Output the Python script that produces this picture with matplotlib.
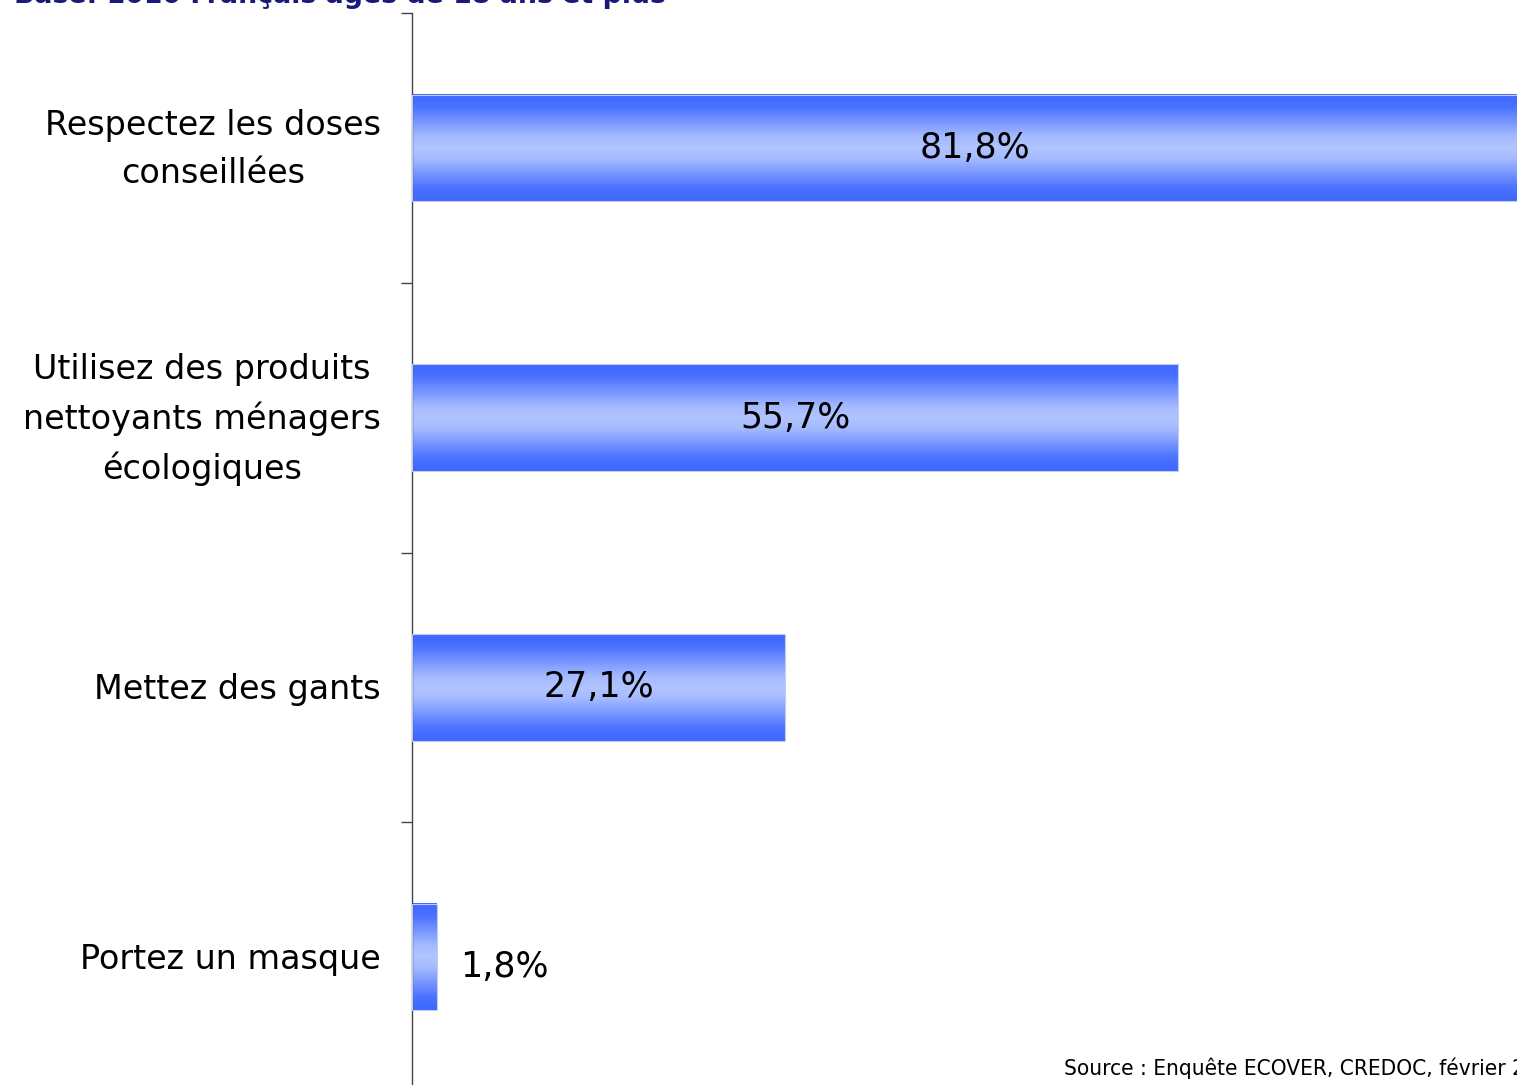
import numpy as np
import matplotlib
matplotlib.use("Agg")
import matplotlib.pyplot as plt
import matplotlib.transforms as mtransforms
from matplotlib import font_manager
from matplotlib.colors import LinearSegmentedColormap

categories = ["Respectez les doses\nconseillées",
              "Utilisez des produits\nnettoyants ménagers\nécologiques",
              "Mettez des gants",
              "Portez un masque"]
values = [81.8, 55.7, 27.1, 1.8]
value_labels = ["81,8%", "55,7%", "27,1%", "1,8%"]
header = "Base: 1010 Français âgés de 18 ans et plus"
source = "Source : Enquête ECOVER, CREDOC, février 2008"

# choose a narrow font for the source line if available
names = {f.name for f in font_manager.fontManager.ttflist}
src_kw = dict(family=["DejaVu Sans"], fontsize=14)
if "Liberation Sans Narrow" in names:
    src_kw = dict(family=["Liberation Sans Narrow", "DejaVu Sans"], fontsize=19)
else:
    cond = [f for f in font_manager.fontManager.ttflist
            if f.name == "DejaVu Sans" and "ondensed" in f.fname
            and f.weight in ("normal", 400) and f.style == "normal"]
    if cond:
        src_kw = dict(fontproperties=font_manager.FontProperties(fname=cond[0].fname, size=16.2))

W, H = 1517, 1085
fig = plt.figure(figsize=(W / 100, H / 100), dpi=100)
fig.patch.set_facecolor("white")

ax_left = 412 / W
ax_top = 13 / H
ax = fig.add_axes([ax_left, 0.0, 1.0 - ax_left, 1.0 - ax_top])

cmap = LinearSegmentedColormap.from_list(
    "g", [(0.0, "#3d66ff"), (0.12, "#4b72ff"), (0.4, "#a6bbff"), (0.5, "#b0c4ff"),
          (0.6, "#a6bbff"), (0.88, "#4b72ff"), (1.0, "#3d66ff")])
grad = np.linspace(0, 1, 256).reshape(-1, 1)

bar_h = 0.395
ys = np.arange(len(categories))
for y, v in zip(ys, values):
    ax.imshow(grad, cmap=cmap, aspect="auto", interpolation="bilinear",
              extent=[0, v, y + bar_h / 2, y - bar_h / 2], zorder=2)
    ax.add_patch(plt.Rectangle((0, y - bar_h / 2), v, bar_h, fill=False,
                               edgecolor="#c0ccf0", linewidth=0.8, zorder=3))

for y, v, lab in zip(ys, values, value_labels):
    if v > 10:
        ax.text(v / 2, y, lab, ha="center", va="center", fontsize=25,
                color="black", zorder=4)
    else:
        ax.text(v + 1.7, y + 0.035, lab, ha="left", va="center", fontsize=25,
                color="black", zorder=4)

ax.set_xlim(0, 1105 / 13.76)
ax.set_ylim(-0.5 + 1072 / 269.75, -0.5)

for s in ["top", "right", "bottom"]:
    ax.spines[s].set_visible(False)
ax.spines["left"].set_color("#444444")
ax.spines["left"].set_linewidth(1.0)
ax.set_xticks([])
ax.set_yticks(ys)
ax.set_yticklabels([""] * len(categories))
ax.tick_params(axis="y", which="major", length=0)
ax.set_yticks([-0.5, 0.5, 1.5, 2.5], minor=True)
ax.tick_params(axis="y", which="minor", length=8, width=1.0, color="#444444")

# category labels, right-aligned block with centered lines
lab_x = -(412 - 381) / 1105.0
tr = ax.get_yaxis_transform() + mtransforms.ScaledTranslation(0, -2 / 100, fig.dpi_scale_trans)
for y, cat in zip(ys, categories):
    ax.text(lab_x, y, cat, transform=tr, ha="right", va="center",
            multialignment="center", fontsize=24, linespacing=1.57,
            clip_on=False)

fig.text(14 / W, 1 - 3 / H, header, ha="left", va="baseline", fontsize=19.3,
         fontweight="bold", color="#1a1a7a")
fig.text(1064 / W, 1 - 1075 / H, source, ha="left", va="baseline",
         color="black", **src_kw)

fig.savefig("out.png", dpi=100, facecolor="white")
